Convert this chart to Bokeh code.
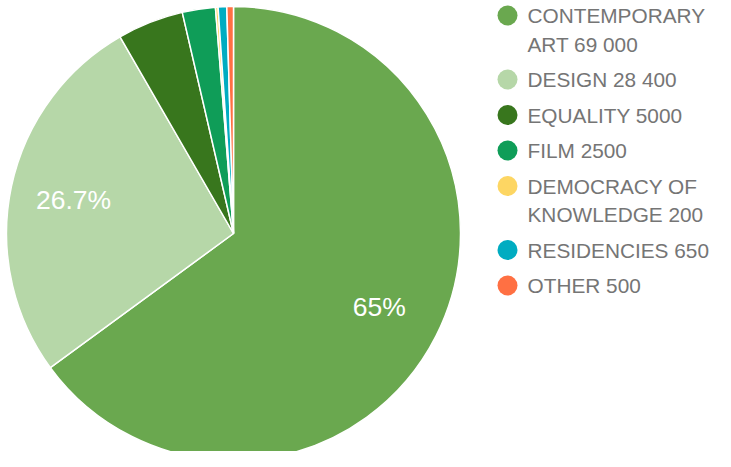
import math
from bokeh.plotting import figure
from bokeh.models import ColumnDataSource, Range1d
from bokeh.core.properties import value
from bokeh.embed import file_html
from bokeh.resources import INLINE

# ---- data ----
categories = ["CONTEMPORARY ART", "DESIGN", "EQUALITY", "FILM",
              "DEMOCRACY OF KNOWLEDGE", "RESIDENCIES", "OTHER"]
amounts = [69000, 28400, 5000, 2500, 200, 650, 500]
legend_lines = [["CONTEMPORARY", "ART 69 000"], ["DESIGN 28 400"], ["EQUALITY 5000"],
                ["FILM 2500"], ["DEMOCRACY OF", "KNOWLEDGE 200"],
                ["RESIDENCIES 650"], ["OTHER 500"]]
slice_labels = ["65%", "26.7%", "", "", "", "", ""]
colors = ["#6aa84f", "#b6d7a8", "#38761d", "#0f9d58", "#fdd663", "#00acc1", "#ff7043"]

W, H = 715, 451
FONT = "Liberation Sans"

p = figure(width=W, height=H, output_backend="svg", toolbar_location=None,
           x_range=Range1d(0, W), y_range=Range1d(0, H), min_border=0)
p.axis.visible = False
p.grid.visible = False
p.outline_line_color = None
p.background_fill_color = "white"

# pie geometry (pixel-based)
cx, cy, r = 233, H - 233, 227
total = sum(amounts)
starts, ends, mids = [], [], []
a = math.pi / 2
for v in amounts:
    da = v / total * 2 * math.pi
    starts.append(a)
    ends.append(a - da)
    mids.append(a - da / 2)
    a -= da

src = ColumnDataSource(dict(start=starts, end=ends, color=colors, name=categories))
p.wedge(x=cx, y=cy, radius=r, start_angle="start", end_angle="end", direction="clock",
        fill_color="color", line_color="white", line_width=1.5, source=src)

# slice labels
lx, ly, lt = [], [], []
for m, t in zip(mids, slice_labels):
    if t:
        lx.append(cx + 0.72 * r * math.cos(m))
        ly.append(cy + 0.72 * r * math.sin(m))
        lt.append(t)
p.text(x=lx, y=ly, text=lt, text_color="white", text_font=value(FONT),
       text_font_size="26.5px", text_align="center", text_baseline="middle")

# legend (manual)
dot_x, txt_x = 507, 527
y = 15
line_h, gap = 28.5, 35.5
dots_y = []
tx, ty, tt = [], [], []
for lines in legend_lines:
    dots_y.append(H - y)
    for i, ln in enumerate(lines):
        tx.append(txt_x)
        ty.append(H - (y + i * line_h))
        tt.append(ln)
    y += gap + line_h * (len(lines) - 1)
p.scatter(x=[dot_x] * len(dots_y), y=dots_y, size=20, marker="circle",
          fill_color=colors, line_color=None)
p.text(x=tx, y=ty, text=tt, text_color="#757575", text_font=value(FONT),
       text_font_size="20.8px", text_align="left", text_baseline="middle")

open("out.html", "w").write(file_html(p, INLINE))
